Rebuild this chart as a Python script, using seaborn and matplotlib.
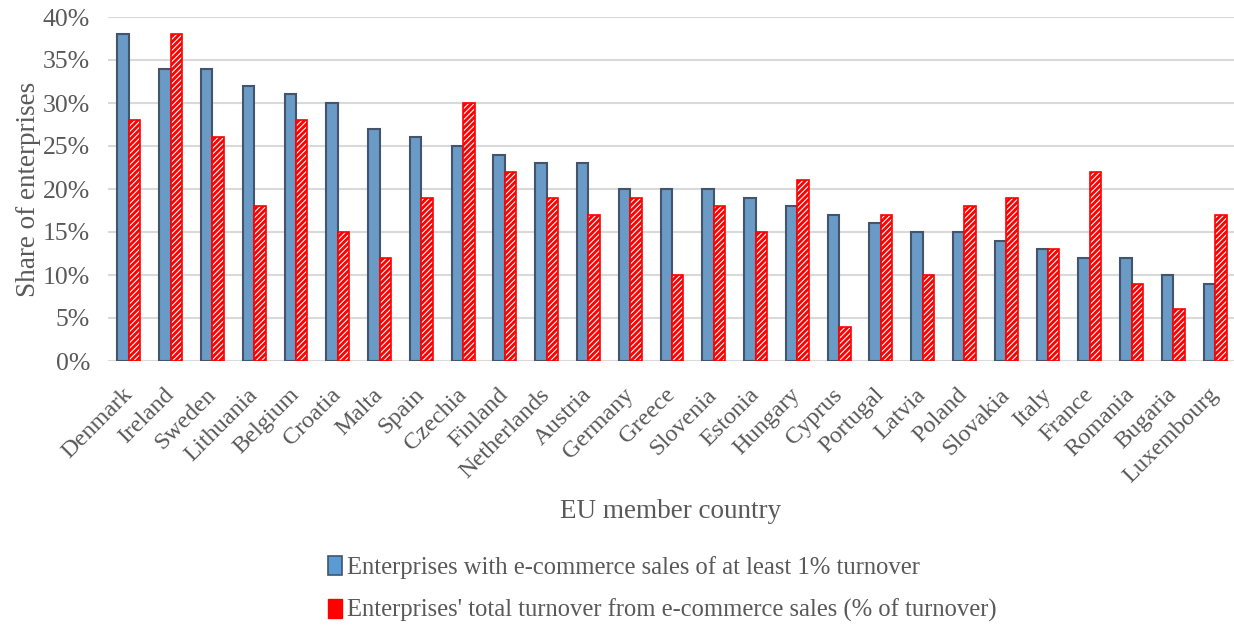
import pandas as pd
import matplotlib.pyplot as plt
import matplotlib.patches as mpatches
from matplotlib.ticker import PercentFormatter
import seaborn as sns

sns.set_style("white")
plt.rcParams['font.family'] = ['Liberation Serif', 'DejaVu Serif']
plt.rcParams['hatch.linewidth'] = 0.8

paises = ['Denmark', 'Ireland', 'Sweden', 'Lithuania', 'Belgium', 'Croatia', 'Malta',
          'Spain', 'Czechia', 'Finland', 'Netherlands', 'Austria', 'Germany', 'Greece',
          'Slovenia', 'Estonia', 'Hungary', 'Cyprus', 'Portugal', 'Latvia', 'Poland',
          'Slovakia', 'Italy', 'France', 'Romania', 'Bugaria', 'Luxembourg']
vendas_1pct = [38, 34, 34, 32, 31, 30, 27, 26, 25, 24, 23, 23, 20, 20, 20, 19, 18, 17,
               16, 15, 15, 14, 13, 12, 12, 10, 9]
faturamento = [28, 38, 26, 18, 28, 15, 12, 19, 30, 22, 19, 17, 19, 10, 18, 15, 21, 4,
               17, 10, 18, 19, 13, 22, 9, 6, 17]

serie1 = 'Enterprises with e-commerce sales of at least 1% turnover'
serie2 = "Enterprises' total turnover from e-commerce sales (% of turnover)"

dados = pd.DataFrame({
    'pais': paises * 2,
    'valor': vendas_1pct + faturamento,
    'serie': [serie1] * len(paises) + [serie2] * len(paises),
})

azul = '#5B9BD5'
borda_azul = '#44546A'
vermelho = '#FF0000'
cinza = '#595959'

fig = plt.figure(figsize=(12.34, 6.29), dpi=100)
ax = fig.add_axes([108 / 1234, 1 - 361 / 629, 1128 / 1234, 344 / 629])

sns.barplot(data=dados, x='pais', y='valor', hue='serie', palette=[azul, vermelho],
            width=0.55, ax=ax, legend=False)

# borda das barras azuis
for barra in ax.containers[0]:
    barra.set_edgecolor(borda_azul)
    barra.set_linewidth(1.5)

# barras vermelhas com hachura branca
for barra in ax.containers[1]:
    barra.set_facecolor(vermelho)
    barra.set_edgecolor(vermelho)
    barra.set_linewidth(1.2)
    barra.set_hatch('//////')
    if hasattr(barra, 'set_hatchcolor'):
        barra.set_hatchcolor('white')
    else:
        barra._hatch_color = (1, 1, 1, 1)

ax.set_ylim(0, 40)
ax.set_yticks(range(0, 41, 5))
ax.yaxis.set_major_formatter(PercentFormatter(decimals=0))
ax.grid(axis='y', color='#D9D9D9', linewidth=1.5)
ax.set_axisbelow(True)
for lado in ['top', 'right', 'left', 'bottom']:
    ax.spines[lado].set_visible(False)
ax.set_xlim(-0.5, len(paises) - 0.5)

ax.tick_params(axis='y', labelsize=18.5, colors=cinza, length=0, pad=13)
ax.tick_params(axis='x', labelsize=17.5, colors=cinza, length=0, pad=22)
plt.setp(ax.get_xticklabels(), rotation=45, ha='right', va='center', rotation_mode='anchor')

ax.set_xlabel('')
ax.set_ylabel('Share of enterprises', fontsize=19.5, color=cinza, labelpad=1)
fig.text(671 / 1234, 1 - 511 / 629, 'EU member country', fontsize=19.5, color=cinza,
         ha='center', va='center')

alca1 = mpatches.Patch(facecolor=azul, edgecolor=borda_azul, linewidth=1.2)
alca2 = mpatches.Patch(facecolor=vermelho, edgecolor=vermelho, hatch='////')
if hasattr(alca2, 'set_hatchcolor'):
    alca2.set_hatchcolor('white')
leg = fig.legend(handles=[alca1, alca2], labels=[serie1, serie2], loc='upper left',
                 bbox_to_anchor=(316 / 1234, 1 - 544 / 629), frameon=False,
                 fontsize=17.7, labelcolor=cinza, handlelength=0.55, handleheight=0.8,
                 handletextpad=0.2, labelspacing=0.8, borderpad=0)

plt.savefig('out.png', dpi=100)
